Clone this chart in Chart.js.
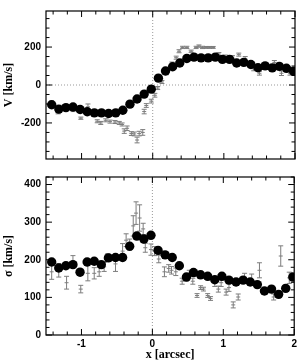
<!DOCTYPE html>
<html>
<head>
<meta charset="utf-8">
<script src="https://cdn.jsdelivr.net/npm/chart.js@4"></script>
<style>
  body { margin: 0; background: #fff; width: 300px; height: 362px; position: relative; overflow: hidden; }
  .box { position: absolute; left: 0; width: 300px; }
</style>
</head>
<body>
<div class="box" style="top:0;height:170px"><canvas id="velChart"></canvas></div>
<div class="box" style="top:166px;height:196px"><canvas id="sigChart"></canvas></div>
<script>
  // positions along the slit (arcsec) for the filled points
  const xPos = [-1.42, -1.32, -1.22, -1.12, -1.02, -0.92, -0.82, -0.72, -0.62, -0.52,
    -0.42, -0.32, -0.22, -0.12, -0.02, 0.08, 0.18, 0.28, 0.38, 0.48,
    0.58, 0.68, 0.78, 0.88, 0.98, 1.08, 1.18, 1.28, 1.38, 1.48,
    1.58, 1.68, 1.78, 1.88, 1.98];

  const velocity = [-104, -127, -119, -116, -129, -141, -147, -147, -150, -147,
    -133, -101, -74, -48, -22, 36, 74, 96, 116, 140,
    147, 143, 143, 147, 135, 135, 116, 119, 108, 91,
    101, 90, 98, 88, 73];

  const sigma = [194, 178, 184, 187, 167, 194, 196, 187, 205, 206,
    206, 236, 263, 255, 265, 225, 213, 206, 184, 154,
    166, 160, 156, 147, 156, 146, 141, 146, 141, 134,
    117, 122, 108, 124, 154];

  // comparison data with error bars (grey)
  const vCompX = [-1.42, -1.33, -1.12, -1.01, -0.91, -0.78, -0.73, -0.66, -0.6, -0.53,
    -0.47, -0.43, -0.4, -0.36, -0.3, -0.26, -0.22, -0.19, -0.14, -0.12,
    -0.09, -0.02, 0.03, 0.07, 0.13, 0.19, 0.27, 0.33, 0.37, 0.42,
    0.48, 0.54, 0.61, 0.65, 0.7, 0.75, 0.8, 0.85, 0.93, 1.02,
    1.12, 1.21, 1.3, 1.42, 1.5, 1.71, 1.81, 1.93];
  const vComp = [-100, -140, -125, -175, -115, -191, -200, -186, -193, -195,
    -200, -208, -243, -228, -256, -258, -290, -256, -250, -140,
    -108, -85, -54, -16, 16, 62, 113, 144, 178, 198,
    198, 178, 198, 205, 198, 198, 198, 198, 163, 150,
    147, 160, 140, 85, 62, 119, 62, 62];
  const vCompErr = [15, 12, 15, 6, 15, 8, 8, 8, 8, 8,
    8, 8, 12, 12, 10, 10, 15, 12, 15, 12,
    10, 10, 10, 8, 8, 8, 8, 8, 8, 6,
    6, 6, 6, 6, 6, 5, 5, 5, 8, 8,
    8, 8, 10, 10, 10, 10, 12, 10];

  const sCompX = [-1.42, -1.32, -1.21, -1.12, -1.01, -0.91, -0.82, -0.75, -0.68, -0.63,
    -0.52, -0.42, -0.37, -0.32, -0.27, -0.23, -0.18, -0.13, -0.1, -0.02,
    0.03, 0.09, 0.17, 0.23, 0.27, 0.33, 0.42, 0.48, 0.52, 0.57,
    0.63, 0.68, 0.72, 0.78, 0.82, 0.88, 0.93, 0.97, 1.04, 1.08,
    1.14, 1.21, 1.3, 1.4, 1.51, 1.71, 1.81, 1.93];
  const sComp = [168, 172, 139, 196, 122, 164, 164, 168, 181, 206,
    189, 223, 252, 240, 290, 324, 311, 282, 232, 227,
    223, 202, 168, 177, 172, 168, 143, 152, 164, 143,
    105, 126, 122, 105, 97, 139, 122, 139, 114, 126,
    80, 101, 152, 147, 172, 101, 210, 152];
  const sCompErr = [20, 18, 17, 15, 10, 20, 15, 12, 12, 10,
    20, 20, 17, 15, 27, 30, 35, 15, 12, 15,
    12, 10, 13, 10, 10, 10, 8, 8, 8, 8,
    5, 5, 5, 5, 5, 10, 8, 10, 8, 10,
    8, 8, 12, 15, 20, 8, 27, 15];

  const xTicks = [-1, 0, 1, 2];
  const vTicks = [-200, 0, 200];
  const sTicks = [0, 100, 200, 300, 400];

  const tickFont = { family: 'Liberation Sans', size: 10, weight: 'bold' };
  const titleFont = { family: 'Liberation Serif', size: 12, weight: 'bold' };
  const grey = '#7d7d7d';

  function barData(xs, ys, es) {
    const out = [];
    xs.forEach((x, i) => {
      out.push({ x: x, y: ys[i] - es[i] }, { x: x, y: ys[i] + es[i] }, { x: x, y: null });
    });
    return out;
  }

  function pts(xs, ys) {
    return xs.map((x, i) => ({ x: x, y: ys[i] }));
  }

  // box around the panel with inward ticks on all sides
  const framePlugin = {
    id: 'frame',
    afterDatasetsDraw(chart, args, opts) {
      const ctx = chart.ctx;
      const a = chart.chartArea;
      const x = chart.scales.x;
      const y = chart.scales.y;
      ctx.save();
      ctx.strokeStyle = '#000';
      ctx.lineWidth = 1.2;
      ctx.strokeRect(a.left, a.top, a.right - a.left, a.bottom - a.top);
      ctx.lineWidth = 1;
      ctx.beginPath();
      for (let i = -7; i <= 10; i++) {
        const px = x.getPixelForValue(i / 5);
        const len = i % 5 === 0 ? 6 : 3.5;
        ctx.moveTo(px, a.bottom); ctx.lineTo(px, a.bottom - len);
        ctx.moveTo(px, a.top); ctx.lineTo(px, a.top + len);
      }
      for (let v = opts.start; v <= y.max; v += opts.minor) {
        const py = y.getPixelForValue(v);
        const len = v % opts.major === 0 ? 6 : 3.5;
        ctx.moveTo(a.left, py); ctx.lineTo(a.left + len, py);
        ctx.moveTo(a.right, py); ctx.lineTo(a.right - len, py);
      }
      ctx.stroke();
      ctx.restore();
    }
  };

  function makeConfig(vals, compX, comp, compErr, yMin, yMax, yTicks, yTitle, bottomAxis, frame) {
    const datasets = [
      {
        type: 'scatter',
        data: pts(xPos, vals),
        backgroundColor: '#000',
        borderColor: '#000',
        borderWidth: 0,
        pointRadius: 4.7,
        pointHoverRadius: 4.7,
      },
      {
        type: 'scatter',
        data: pts(compX, comp),
        pointStyle: 'line',
        pointRadius: 2,
        pointBorderWidth: 1,
        borderColor: grey,
      },
      {
        type: 'line',
        data: barData(compX, comp, compErr),
        borderColor: grey,
        borderWidth: 1,
        spanGaps: false,
        pointStyle: 'line',
        pointRadius: 2.5,
        pointBorderWidth: 1,
        pointBorderColor: grey,
      },
      {
        type: 'line',
        data: [{ x: 0, y: yMin }, { x: 0, y: yMax }],
        borderColor: '#999',
        borderWidth: 1,
        borderDash: [1, 2],
        pointRadius: 0,
      },
    ];
    if (yMin < 0) {
      datasets.push({
        type: 'line',
        data: [{ x: -1.5, y: 0 }, { x: 2, y: 0 }],
        borderColor: '#999',
        borderWidth: 1,
        borderDash: [1, 2],
        pointRadius: 0,
      });
    }
    return {
      type: 'scatter',
      data: { datasets: datasets },
      plugins: [framePlugin],
      options: {
        responsive: true,
        maintainAspectRatio: false,
        animation: false,
        layout: { padding: { left: 0, right: 4, top: bottomAxis ? 2 : 1, bottom: bottomAxis ? 0 : 2 } },
        plugins: {
          legend: { display: false },
          tooltip: { enabled: false },
          frame: frame,
        },
        scales: {
          x: {
            type: 'linear',
            min: -1.5,
            max: 2,
            display: bottomAxis,
            grid: { display: false, drawTicks: false },
            border: { display: false },
            afterBuildTicks: (s) => { s.ticks = xTicks.map(v => ({ value: v })); },
            afterFit: (s) => { if (bottomAxis) s.height = 27; },
            ticks: { font: tickFont, color: '#000', padding: 3, maxRotation: 0 },
            title: {
              display: true,
              text: 'x [arcsec]',
              font: titleFont,
              color: '#000',
              padding: { top: 0, bottom: 0 },
            },
          },
          y: {
            type: 'linear',
            min: yMin,
            max: yMax,
            grid: { display: false, drawTicks: false },
            border: { display: false },
            afterBuildTicks: (s) => { s.ticks = yTicks.map(v => ({ value: v })); },
            afterFit: (s) => { s.width = 46; },
            ticks: { font: tickFont, color: '#000', padding: 5 },
            title: {
              display: true,
              text: yTitle,
              font: titleFont,
              color: '#000',
              padding: { top: 2, bottom: 0 },
            },
          },
        },
      },
    };
  }

  new Chart(document.getElementById('velChart'),
    makeConfig(velocity, vCompX, vComp, vCompErr, -390, 390, vTicks, 'V [km/s]', false,
      { start: -350, minor: 50, major: 200 }));

  new Chart(document.getElementById('sigChart'),
    makeConfig(sigma, sCompX, sComp, sCompErr, 0, 420, sTicks, 'σ [km/s]', true,
      { start: 0, minor: 20, major: 100 }));
</script>
</body>
</html>
